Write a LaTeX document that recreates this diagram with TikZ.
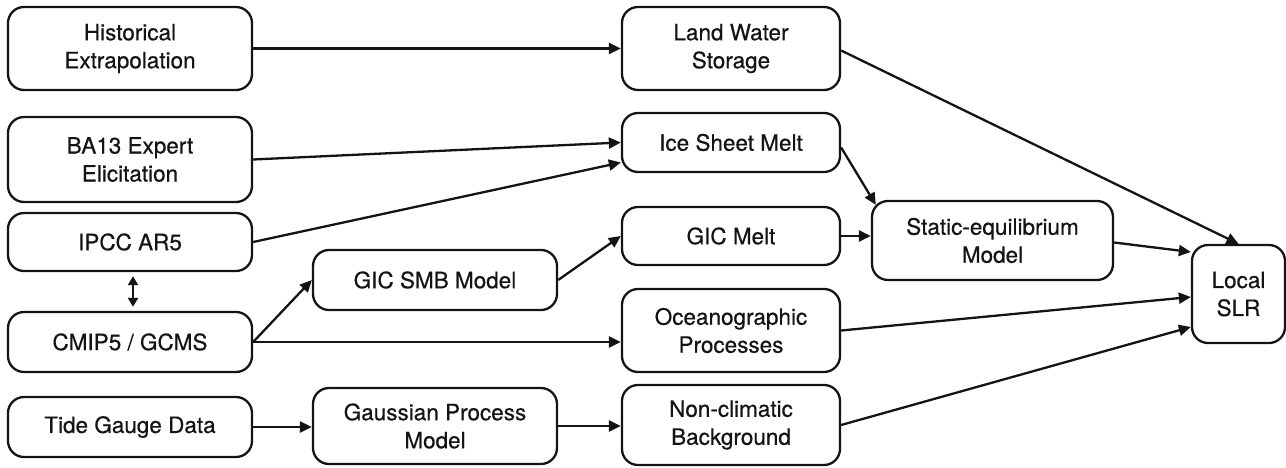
\documentclass[tikz,border=0pt]{standalone}
\usepackage{fontspec}
\setmainfont{TeX Gyre Heros}[FakeBold=0.5]
\usetikzlibrary{arrows.meta}
\definecolor{ink}{HTML}{141414}
\tikzset{
  box/.style={draw=ink, line width=2.3pt, rounded corners=16pt, inner sep=0pt,
    align=center, text=ink, font=\fontsize{22.5}{28}\selectfont},
  conn/.style={draw=ink, line width=2.3pt, -{Triangle[length=12pt,width=11pt]}},
  biconn/.style={draw=ink, line width=2.3pt, {Triangle[length=9pt,width=10pt]}-{Triangle[length=9pt,width=10pt]}}
}
\begin{document}
\begin{tikzpicture}[x=1pt,y=-1pt]
\useasboundingbox (0,0) rectangle (1286,468);
% left column
\node[box, minimum width=244pt, minimum height=83pt] (hist) at (130,48.5) {Historical\\Extrapolation};
\node[box, minimum width=244pt, minimum height=85pt] (ba13) at (130,159.5) {BA13 Expert\\Elicitation};
\node[box, minimum width=244pt, minimum height=58pt] (ipcc) at (130,242) {IPCC AR5};
\node[box, minimum width=244pt, minimum height=60pt] (cmip) at (130,342) {CMIP5 / GCMS};
\node[box, minimum width=244pt, minimum height=60pt] (tide) at (130,427) {Tide Gauge Data};
% second column
\node[box, minimum width=244pt, minimum height=60pt] (gicsmb) at (435,280) {GIC SMB Model};
\node[box, minimum width=244pt, minimum height=76pt] (gauss) at (435,426) {Gaussian Process\\Model};
% third column
\node[box, minimum width=218pt, minimum height=83pt] (land) at (731,48.5) {Land Water\\Storage};
\node[box, minimum width=218pt, minimum height=59pt] (ice) at (731,142.5) {Ice Sheet Melt};
\node[box, minimum width=218pt, minimum height=58pt] (gicmelt) at (731,236) {GIC Melt};
\node[box, minimum width=218pt, minimum height=83pt] (ocean) at (731,330.5) {Oceanographic\\Processes};
\node[box, minimum width=218pt, minimum height=80pt] (noncl) at (731,425) {Non-climatic\\Background};
% fourth / fifth
\node[box, minimum width=241pt, minimum height=79pt] (static) at (992.5,240.5) {Static-equilibrium\\Model};
\node[box, minimum width=93pt, minimum height=98pt] (slr) at (1238.5,294) {Local\\SLR};
% connectors
\draw[conn] (hist.east) -- (hist.east -| land.west);
\draw[conn] (ba13.east) -- (ice.west);
\draw[conn] (ipcc.east) -- ([yshift=-20pt]ice.west);
\draw[biconn] ([xshift=3pt,yshift=-4pt]ipcc.south) -- ([xshift=3pt,yshift=4pt]cmip.north);
\draw[conn] (cmip.east) -- (gicsmb.west);
\draw[conn] (cmip.east) -- (cmip.east -| ocean.west);
\draw[conn] (gicsmb.east) -- (gicmelt.west);
\draw[conn] (tide.east) -- (tide.east -| gauss.west);
\draw[conn] (gauss.east) -- (gauss.east -| noncl.west);
\draw[conn] ([yshift=-5pt]ice.east) -- ([xshift=5pt,yshift=-5pt]static.north west);
\draw[conn] (gicmelt.east) -- (gicmelt.east -| static.west);
\draw[conn] ([yshift=-2pt]land.east) -- (slr.north);
\draw[conn] ([yshift=-2pt]static.east) -- ([yshift=42pt]slr.west);
\draw[conn] (ocean.east) -- ([yshift=-3pt]slr.west);
\draw[conn] (noncl.east) -- ([yshift=-33pt]slr.west);
\end{tikzpicture}
\end{document}
